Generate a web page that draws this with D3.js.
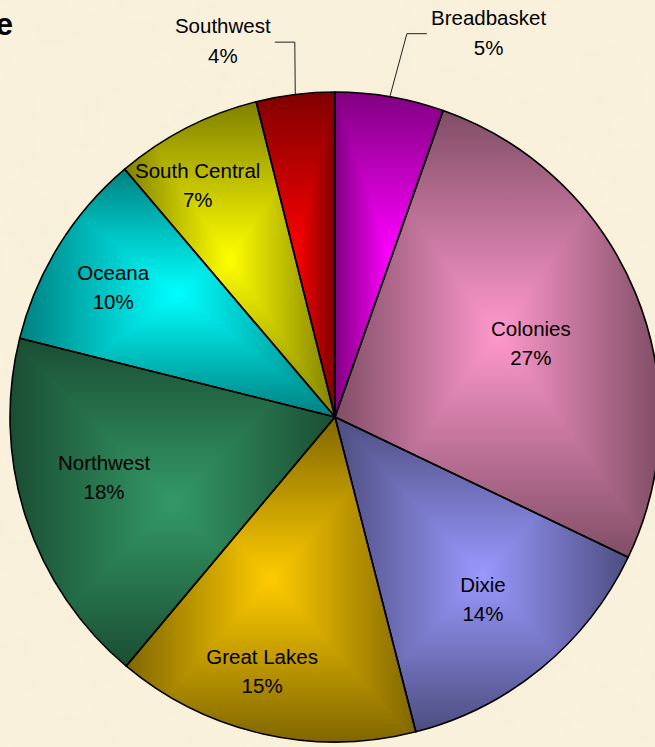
<!DOCTYPE html>
<html>
<head>
<meta charset="utf-8">
<script src="https://cdn.jsdelivr.net/npm/d3@7.9.0/dist/d3.min.js"></script>
<style>
  body { margin: 0; background: #faf1dc; }
  svg { display: block; }
  text { font-family: 'Liberation Sans', Arial, sans-serif; }
</style>
</head>
<body>
<svg id="chart" width="655" height="747"></svg>
<script>
// region shares (%), clockwise from 12 o'clock
const regions = ['Breadbasket', 'Colonies', 'Dixie', 'Great Lakes', 'Northwest', 'Oceana', 'South Central', 'Southwest'];
const shares = [5.4, 26.7, 13.9, 15.1, 17.8, 9.9, 7.3, 3.9];
const lightColors = ['#ff00ff', '#ff99cc', '#9999ff', '#ffcc00', '#339966', '#00ffff', '#ffff00', '#ff0000'];
const darkColors = ['#800080', '#804d66', '#4d4d80', '#806600', '#1a4d33', '#008080', '#808000', '#800000'];

// label placement inside the slice: [fraction of radius, angle nudge in degrees]
const labelFit = {
  'Colonies': [0.643, 2.1], 'Dixie': [0.723, 0.4], 'Great Lakes': [0.815, 3.2],
  'Northwest': [0.735, 3.2], 'Oceana': [0.79, -1.6], 'South Central': [0.828, -3.5],
};
// outside labels: leader elbow [fraction of radius, angle nudge in degrees]
const leaderFit = { 'Breadbasket': [1.2, 0.9], 'Southwest': [1.16, 0.9] };

const width = 655, height = 747;
const cx = 335, cy = 417, radius = 325;

const svg = d3.select('#chart');
const defs = svg.append('defs');

// parchment background
const paper = defs.append('filter').attr('id', 'paper').attr('x', 0).attr('y', 0).attr('width', 1).attr('height', 1);
paper.append('feTurbulence').attr('type', 'fractalNoise').attr('baseFrequency', 0.014).attr('numOctaves', 4).attr('seed', 7);
paper.append('feColorMatrix').attr('type', 'matrix')
  .attr('values', '0 0 0 0 0.91  0 0 0 0 0.84  0 0 0 0 0.66  0 0 0 0.7 -0.26');
svg.append('rect').attr('width', width).attr('height', height).attr('fill', '#faf1dc');
svg.append('rect').attr('width', width).attr('height', height).attr('filter', 'url(#paper)');

// clipped title
svg.append('text').attr('x', 13).attr('y', 35).attr('text-anchor', 'end')
  .attr('font-size', 31).attr('font-weight', 'bold').text('e');

const pie = d3.pie().sort(null).value((d) => d);
const arc = d3.arc().innerRadius(0).outerRadius(radius);
const arcData = pie(shares);
const total = d3.sum(shares);

const g = svg.append('g').attr('transform', `translate(${cx},${cy})`);

arcData.forEach((d, i) => {
  const pathD = arc(d);
  const clipId = `clip${i}`;
  defs.append('clipPath').attr('id', clipId).append('path').attr('d', pathD);

  const tmp = g.append('path').attr('d', pathD);
  const bb = tmp.node().getBBox();
  tmp.remove();
  const x0 = bb.x, y0 = bb.y, x1 = bb.x + bb.width, y1 = bb.y + bb.height;
  const mx = (x0 + x1) / 2, my = (y0 + y1) / 2;

  const slice = g.append('g').attr('clip-path', `url(#${clipId})`);
  slice.append('rect').attr('x', x0 - 2).attr('y', y0 - 2).attr('width', bb.width + 4).attr('height', bb.height + 4)
    .attr('fill', d3.interpolateRgb(darkColors[i], lightColors[i])(0.5));

  // box ("from centre") gradient: four triangles, each shading from an edge to the centre
  const sides = [
    { pts: [[x0, y0], [x1, y0], [mx, my]], from: [mx, y0] },
    { pts: [[x1, y0], [x1, y1], [mx, my]], from: [x1, my] },
    { pts: [[x1, y1], [x0, y1], [mx, my]], from: [mx, y1] },
    { pts: [[x0, y1], [x0, y0], [mx, my]], from: [x0, my] },
  ];
  sides.forEach((s, k) => {
    const gid = `grad${i}_${k}`;
    const grad = defs.append('linearGradient').attr('id', gid).attr('gradientUnits', 'userSpaceOnUse')
      .attr('x1', s.from[0]).attr('y1', s.from[1]).attr('x2', mx).attr('y2', my);
    grad.append('stop').attr('offset', 0).attr('stop-color', darkColors[i]);
    grad.append('stop').attr('offset', 1).attr('stop-color', lightColors[i]);
    slice.append('path').attr('d', d3.line()(s.pts) + 'Z')
      .attr('fill', `url(#${gid})`).attr('stroke', `url(#${gid})`).attr('stroke-width', 0.6);
  });
});

// outlines
g.selectAll('path.outline').data(arcData).join('path')
  .attr('class', 'outline').attr('d', arc)
  .attr('fill', 'none').attr('stroke', '#000').attr('stroke-width', 1.6).attr('stroke-linejoin', 'round');

// labels
const polar = (r, a) => [r * Math.sin(a), -r * Math.cos(a)];
const rad = (deg) => (deg * Math.PI) / 180;
arcData.forEach((d, i) => {
  const name = regions[i];
  const pct = `${Math.round((d.value / total) * 100)}%`;
  const mid = (d.startAngle + d.endAngle) / 2;

  const t = g.append('text').attr('text-anchor', 'middle').attr('font-size', 20.5);
  if (labelFit[name]) {
    const [f, nudge] = labelFit[name];
    const [lx, ly] = polar(radius * f, mid + rad(nudge));
    t.append('tspan').attr('x', lx).attr('y', ly - 8).text(name);
    t.append('tspan').attr('x', lx).attr('y', ly + 21).text(pct);
  } else {
    const [f, nudge] = leaderFit[name];
    const side = Math.sin(mid) >= 0 ? 1 : -1;
    const p0 = polar(radius, mid);
    const p1 = polar(radius * f, mid + rad(nudge));
    const p2 = [p1[0] + side * 20, p1[1]];
    g.append('path').attr('d', d3.line()([p0, p1, p2]))
      .attr('fill', 'none').attr('stroke', '#222').attr('stroke-width', 1);
    t.append('tspan').attr('x', 0).attr('y', p1[1] - 9).text(name);
    t.append('tspan').attr('x', 0).attr('y', p1[1] + 21).text(pct);
    const w = t.node().getBBox().width;
    const tx = p2[0] + side * (4 + w / 2);
    t.selectAll('tspan').attr('x', tx);
  }
});
</script>
</body>
</html>
